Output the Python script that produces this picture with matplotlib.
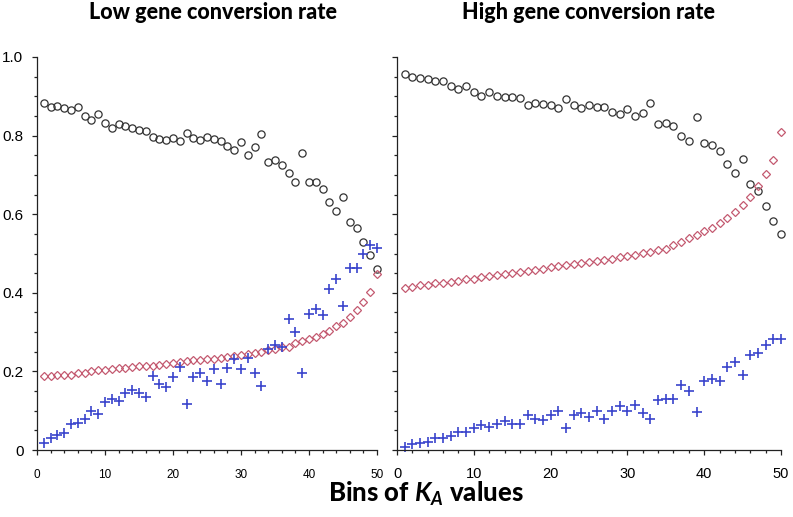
import matplotlib
matplotlib.use("Agg")
import matplotlib.pyplot as plt
from matplotlib.ticker import MultipleLocator, FixedLocator, FixedFormatter
import numpy as np

plt.rcParams["mathtext.fontset"] = "custom"
plt.rcParams["mathtext.it"] = "Lato:italic:bold"
plt.rcParams["mathtext.rm"] = "Lato:bold"
plt.rcParams["mathtext.bf"] = "Lato:bold"

bins = list(range(1, 51))

low_circle = [0.883, 0.874, 0.875, 0.870, 0.866, 0.872, 0.849, 0.839, 0.855, 0.832,
              0.820, 0.830, 0.824, 0.819, 0.814, 0.811, 0.797, 0.791, 0.790, 0.795,
              0.786, 0.806, 0.795, 0.789, 0.796, 0.791, 0.787, 0.774, 0.764, 0.783,
              0.751, 0.770, 0.803, 0.734, 0.737, 0.726, 0.704, 0.683, 0.756, 0.683,
              0.681, 0.664, 0.631, 0.609, 0.643, 0.579, 0.565, 0.530, 0.496, 0.461]
low_diamond = [0.189, 0.189, 0.191, 0.191, 0.192, 0.197, 0.197, 0.202, 0.203, 0.203,
               0.207, 0.208, 0.209, 0.212, 0.214, 0.214, 0.215, 0.217, 0.219, 0.222,
               0.224, 0.226, 0.228, 0.228, 0.231, 0.232, 0.234, 0.237, 0.239, 0.243,
               0.244, 0.247, 0.250, 0.255, 0.256, 0.261, 0.263, 0.271, 0.277, 0.283,
               0.287, 0.296, 0.304, 0.315, 0.323, 0.338, 0.357, 0.377, 0.403, 0.447]
low_plus = [0.018, 0.030, 0.038, 0.043, 0.067, 0.068, 0.079, 0.099, 0.092, 0.122,
            0.131, 0.124, 0.144, 0.152, 0.144, 0.135, 0.188, 0.169, 0.161, 0.185,
            0.210, 0.118, 0.186, 0.197, 0.175, 0.206, 0.169, 0.208, 0.231, 0.205,
            0.233, 0.195, 0.164, 0.258, 0.266, 0.261, 0.333, 0.300, 0.195, 0.347,
            0.359, 0.344, 0.409, 0.434, 0.366, 0.462, 0.464, 0.500, 0.522, 0.515]

high_circle = [0.956, 0.950, 0.947, 0.944, 0.939, 0.939, 0.927, 0.918, 0.925, 0.911,
               0.902, 0.911, 0.902, 0.897, 0.897, 0.896, 0.877, 0.883, 0.881, 0.879,
               0.871, 0.894, 0.879, 0.871, 0.879, 0.874, 0.874, 0.860, 0.854, 0.868,
               0.849, 0.857, 0.883, 0.830, 0.831, 0.824, 0.799, 0.787, 0.847, 0.782,
               0.776, 0.762, 0.729, 0.706, 0.740, 0.678, 0.658, 0.622, 0.583, 0.549]
high_diamond = [0.413, 0.415, 0.419, 0.421, 0.424, 0.426, 0.428, 0.431, 0.434, 0.436,
                0.440, 0.442, 0.445, 0.448, 0.451, 0.453, 0.456, 0.459, 0.461, 0.465,
                0.468, 0.471, 0.473, 0.476, 0.478, 0.481, 0.484, 0.487, 0.490, 0.493,
                0.497, 0.501, 0.505, 0.508, 0.511, 0.521, 0.530, 0.539, 0.547, 0.556,
                0.566, 0.577, 0.591, 0.605, 0.624, 0.645, 0.671, 0.702, 0.739, 0.810]
high_plus = [0.008, 0.014, 0.017, 0.021, 0.031, 0.031, 0.036, 0.046, 0.046, 0.056,
             0.063, 0.059, 0.067, 0.073, 0.067, 0.065, 0.088, 0.080, 0.077, 0.090,
             0.099, 0.055, 0.090, 0.095, 0.083, 0.099, 0.080, 0.099, 0.112, 0.099,
             0.115, 0.095, 0.080, 0.128, 0.131, 0.131, 0.166, 0.150, 0.097, 0.175,
             0.181, 0.175, 0.211, 0.225, 0.191, 0.242, 0.246, 0.268, 0.282, 0.282]

titles = ["Low gene conversion rate", "High gene conversion rate"]
y_ticks = [0, 0.2, 0.4, 0.6, 0.8, 1.0]
y_ticklabels = ["0", "0.2", "0.4", "0.6", "0.8", "1.0"]
x_ticks = [0, 10, 20, 30, 40, 50]

W, H = 793, 517
fig = plt.figure(figsize=(W / 100, H / 100), dpi=100)

def frac(x0, x1, y0, y1):
    return [x0 / W, 1 - y0 / H, (x1 - x0) / W, (y0 - y1) / H]

ax1 = fig.add_axes(frac(37, 377, 450, 57))
ax2 = fig.add_axes(frac(397, 781, 450, 57))

circ_c = "#333333"
dia_c = "#c45a70"
plus_c = "#3a44cc"

for ax, c, d, p in [(ax1, low_circle, low_diamond, low_plus),
                    (ax2, high_circle, high_diamond, high_plus)]:
    ax.plot(bins, c, linestyle="none", marker="o", ms=5.2, mfc="none",
            mec=circ_c, mew=0.9, clip_on=False)
    ax.plot(bins, d, linestyle="none", marker="D", ms=3.8, mfc="none",
            mec=dia_c, mew=0.9, clip_on=False)
    ax.plot(bins, p, linestyle="none", marker="+", ms=6.5,
            mec=plus_c, mew=1.2, clip_on=False)
    ax.set_xlim(0, 50)
    ax.set_ylim(0, 1.0)
    for s in ["top", "right"]:
        ax.spines[s].set_visible(False)
    for s in ["left", "bottom"]:
        ax.spines[s].set_linewidth(0.9)
        ax.spines[s].set_color("#222222")
    ax.xaxis.set_major_locator(FixedLocator(x_ticks))
    ax.xaxis.set_minor_locator(MultipleLocator(2))
    ax.yaxis.set_major_locator(FixedLocator(y_ticks))
    ax.yaxis.set_minor_locator(MultipleLocator(0.05))
    ax.tick_params(which="major", direction="out", length=3.8, width=0.9, color="#222222")
    ax.tick_params(which="minor", direction="out", length=2.4, width=0.9, color="#222222")

ax1.yaxis.set_major_formatter(FixedFormatter(y_ticklabels))
for lab in ax1.get_yticklabels():
    lab.set_fontfamily("Liberation Sans")
    lab.set_fontsize(11)
ax1.tick_params(axis="y", pad=6)
ax2.set_yticklabels([])

ax1.set_xticklabels([str(t) for t in x_ticks])
for lab in ax1.get_xticklabels():
    lab.set_fontfamily(["Liberation Sans Narrow", "Liberation Sans"])
    lab.set_fontsize(8.5)
ax2.set_xticklabels([str(t) for t in x_ticks])
for lab in ax2.get_xticklabels():
    lab.set_fontfamily("Liberation Sans")
    lab.set_fontsize(10.5)
ax1.tick_params(axis="x", pad=10)
ax2.tick_params(axis="x", pad=8.5)

fig.text(213 / W, 1 - 19 / H, titles[0], ha="center", va="baseline",
         fontsize=15.5, fontweight="black", family="Lato")
fig.text(589 / W, 1 - 19 / H, titles[1], ha="center", va="baseline",
         fontsize=15.5, fontweight="black", family="Lato")
fig.text(426 / W, 1 - 502 / H, r"Bins of $K_A$ values", ha="center",
         va="baseline", fontsize=18.5, fontweight="black", family="Lato")

fig.savefig("out.png", dpi=100)
